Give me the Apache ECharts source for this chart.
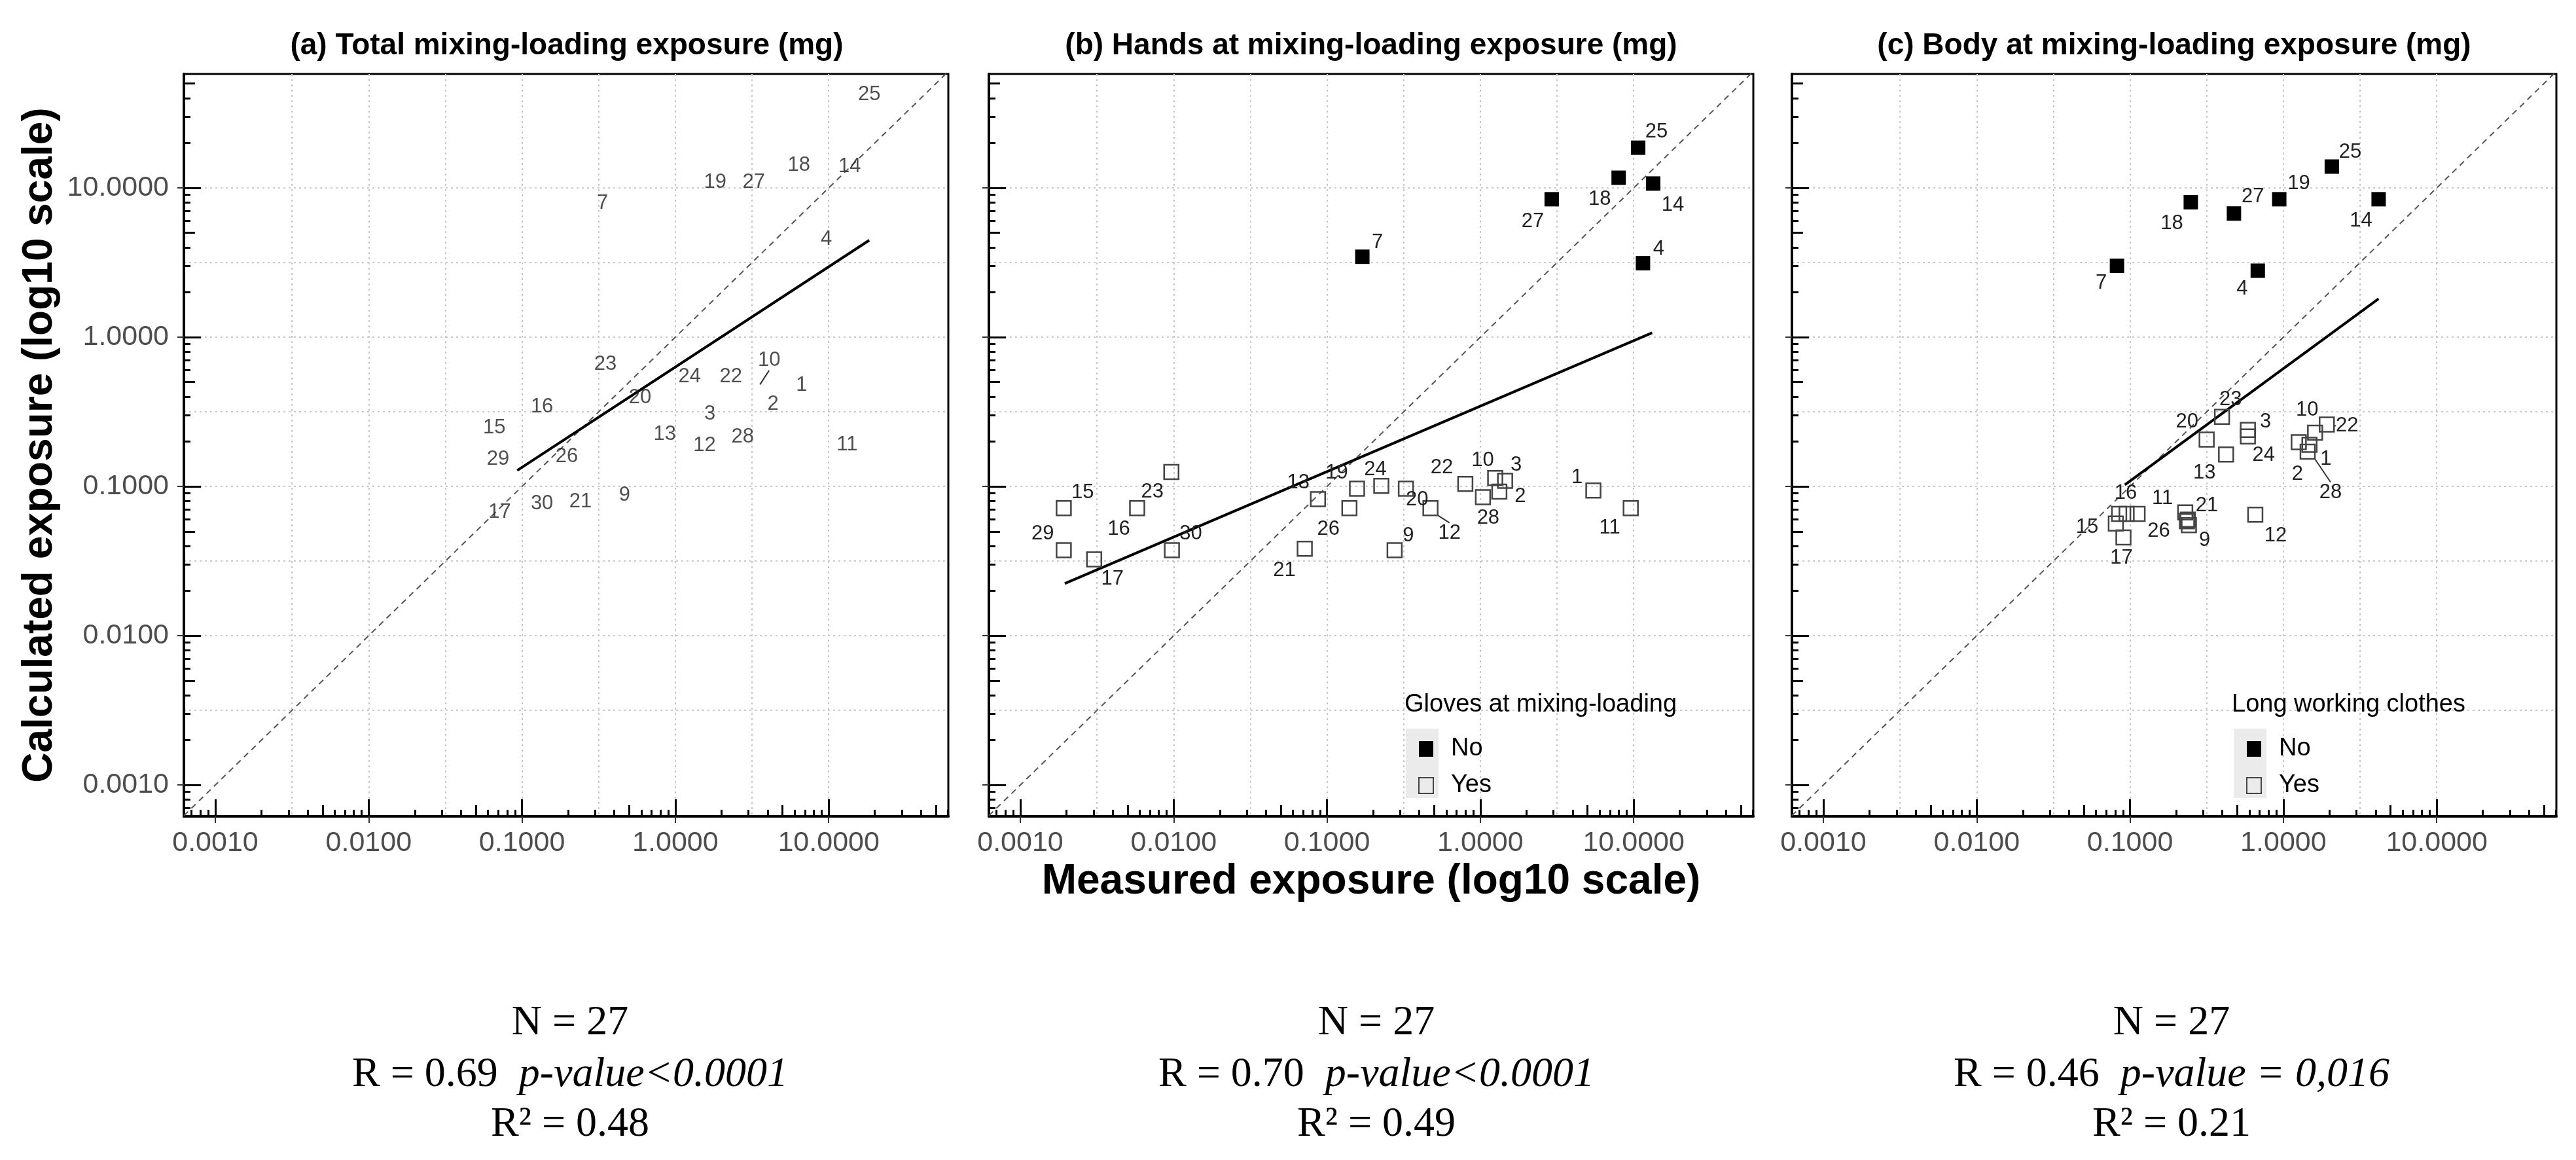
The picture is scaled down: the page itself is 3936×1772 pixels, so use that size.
<!DOCTYPE html>
<html>
<head>
<meta charset="utf-8">
<title>Measured vs calculated mixing-loading exposure</title>
<script src="https://cdn.jsdelivr.net/npm/echarts@6/dist/echarts.min.js"></script>
<style>
    html, body { margin: 0; padding: 0; background: #ffffff; }
    #exposureChart { width: 3936px; height: 1772px; }
</style>
</head>
<body>
<div id="exposureChart"></div>
<script>
/*********************************************** data ***********************************************/

// operator ids (same order in every array below)
var pointIds = [1, 2, 3, 4, 7, 9, 10, 11, 12, 13, 14, 15, 16, 17, 18, 19, 20, 21, 22, 23, 24, 25, 26, 27, 28, 29, 30];

// (a) total mixing-loading exposure (mg)
var totalMeasured   = [6.67, 4.34, 1.68, 9.66, 0.335, 0.467, 3.53, 13.2, 1.55, 0.853, 13.7, 0.0659, 0.135, 0.0716, 6.40, 1.82, 0.589, 0.241, 2.30, 0.350, 1.24, 18.4, 0.196, 3.25, 2.75, 0.0698, 0.135];
var totalCalculated = [0.477, 0.357, 0.305, 4.52, 7.93, 0.0871, 0.477, 0.191, 0.188, 0.224, 13.9, 0.247, 0.343, 0.0675, 14.2, 10.9, 0.394, 0.0789, 0.541, 0.656, 0.541, 42.1, 0.158, 10.9, 0.214, 0.152, 0.0767];

// (b) hands at mixing-loading exposure (mg)
var handsMeasured   = [5.46, 1.33, 1.45, 11.5, 0.170, 0.276, 1.25, 9.57, 0.473, 0.0873, 13.4, 0.00192, 0.00578, 0.00303, 7.98, 0.157, 0.327, 0.0716, 0.798, 0.00966, 0.226, 10.7, 0.140, 2.92, 1.04, 0.00192, 0.00974];
var handsCalculated = [0.094, 0.0923, 0.109, 3.13, 3.46, 0.0374, 0.114, 0.0716, 0.0716, 0.0822, 10.7, 0.0716, 0.0716, 0.0325, 11.7, 0.0967, 0.0967, 0.0383, 0.104, 0.125, 0.101, 18.6, 0.0716, 8.4, 0.0847, 0.0374, 0.0374];
var handsGloves     = ['Yes', 'Yes', 'Yes', 'No', 'No', 'Yes', 'Yes', 'Yes', 'Yes', 'Yes', 'No', 'Yes', 'Yes', 'Yes', 'No', 'Yes', 'Yes', 'Yes', 'Yes', 'Yes', 'Yes', 'No', 'Yes', 'No', 'Yes', 'Yes', 'Yes'];

// (c) body at mixing-loading exposure (mg)
var bodyMeasured    = [1.48, 1.26, 0.587, 0.681, 0.0822, 0.242, 1.61, 0.112, 0.656, 0.423, 4.18, 0.0808, 0.0849, 0.0906, 0.249, 0.94, 0.316, 0.229, 1.92, 0.398, 0.587, 2.07, 0.235, 0.476, 1.44, 0.0950, 0.238];
var bodyCalculated  = [0.190, 0.198, 0.239, 2.79, 3.01, 0.0551, 0.229, 0.0655, 0.0647, 0.164, 8.40, 0.0565, 0.0655, 0.0456, 8.02, 8.40, 0.206, 0.0670, 0.260, 0.293, 0.216, 13.9, 0.0585, 6.74, 0.171, 0.0655, 0.0600];
var bodyClothes     = ['Yes', 'Yes', 'Yes', 'No', 'No', 'Yes', 'Yes', 'Yes', 'Yes', 'Yes', 'No', 'Yes', 'Yes', 'Yes', 'No', 'No', 'Yes', 'Yes', 'Yes', 'Yes', 'Yes', 'No', 'Yes', 'No', 'Yes', 'Yes', 'Yes'];
// ids whose label was dropped in the body panel
var bodyHiddenLabels = [29, 30];

// regression lines (end points)
var fitTotal = [[0.0931, 0.128], [18.4, 4.46]];
var fitHands = [[0.00195, 0.0224], [13.2, 1.07]];
var fitBody  = [[0.0925, 0.1025], [4.18, 1.81]];

// axis decades and their tick labels
var decades    = [0.001, 0.01, 0.1, 1, 10];
var tickLabels = ['0.0010', '0.0100', '0.1000', '1.0000', '10.0000'];

// statistics written under each panel
var statN  = ['27', '27', '27'];
var statR  = ['0.69', '0.70', '0.46'];
var statP  = ['p-value<0.0001', 'p-value<0.0001', 'p-value = 0,016'];
var statR2 = ['0.48', '0.49', '0.21'];

var panelTitles = ['(a) Total mixing-loading exposure (mg)', '(b) Hands at mixing-loading exposure (mg)', '(c) Body at mixing-loading exposure (mg)'];
var legendTitles = ['Gloves at mixing-loading', 'Long working clothes'];

/*********************************************** layout ***********************************************/

var FONT = "'Liberation Sans', Arial, Helvetica, sans-serif";
var SERIF = "'Liberation Serif', 'Times New Roman', serif";
var panelLeft = [281, 1511, 2738];
var panelTop = 113;
var panelWidth = 1168;
var panelHeight = 1134;
var xMin = 0.000624, xMax = 60.3;
var yMin = 0.000617, yMax = 58;

// label displacement (px) of the repelled labels, by id
var labelShiftTotal = {10: [15, -38]};
var labelShiftHands = {
    1: [-25, -20], 2: [32, 7], 3: [17, -24], 4: [24, -22], 7: [23, -22], 9: [21, -22], 10: [-19, -27],
    11: [-32, 30], 12: [29, 38], 13: [-30, -25], 14: [30, 33], 15: [29, -24], 16: [-28, 32], 17: [28, 30],
    18: [-29, 33], 19: [-31, -24], 20: [17, 17], 21: [-31, 33], 22: [-36, -25], 23: [-29, 30], 24: [-9, -25],
    25: [28, -24], 26: [-32, 32], 27: [-29, 34], 28: [8, 32], 29: [-32, -25], 30: [29, -25]
};
var labelShiftBody = {
    1: [25, 22], 2: [-2, 49], 3: [27, -12], 4: [-24, 28], 7: [-24, 26], 9: [24, 23], 10: [-12, -35],
    11: [38, -24], 12: [31, 32], 13: [-33, 28], 14: [-27, 33], 15: [-44, 6], 16: [10, -32], 17: [-3, 32],
    18: [-29, 33], 19: [30, -24], 20: [-30, -27], 21: [33, -10], 22: [31, 2], 23: [13, -26], 24: [24, 29],
    25: [28, -22], 26: [-43, 15], 27: [29, -26], 28: [35, 62]
};
// labels joined to their point by a short segment
var leaderTotal = [10];
var leaderHands = [12];
var leaderBody = [28, 22];

var pointLabel = {
    show: true, position: 'inside', formatter: '{b}',
    fontFamily: FONT, fontSize: 31, color: '#222'
};

/**
 * 对数轴刻度位置
 */
function logTickValues(multipliers) {
    var values = [];
    for (var d = -4; d <= 1; d++) {
        for (var i = 0; i < multipliers.length; i++) {
            var v = multipliers[i] * Math.pow(10, d);
            if (v > xMin && v < xMax) {
                values.push(Number(v.toPrecision(6)));
            }
        }
    }
    return values;
}

var shortTickValues = logTickValues([2, 3, 4, 6, 7, 8, 9]);
var midTickValues = logTickValues([5]);
var gridValues = logTickValues([1, Math.sqrt(10)]);

function decadeLabel(value) {
    var k = Math.round(Math.log10(value));
    return tickLabels[k + 3] || '';
}

function baseAxis(dim, gridIndex) {
    var isX = dim === 'x';
    return {
        type: 'log', logBase: 10, gridIndex: gridIndex,
        min: isX ? xMin : yMin, max: isX ? xMax : yMax,
        position: isX ? 'bottom' : 'left', splitNumber: 5,
        axisLine: {show: false},
        axisTick: {show: false},
        axisLabel: {show: false},
        splitLine: {show: false},
        minorTick: {show: false}
    };
}

function tickAxis(dim, gridIndex, values, length) {
    var axis = baseAxis(dim, gridIndex);
    axis.axisTick = {show: true, inside: true, length: length, customValues: values, lineStyle: {color: '#000', width: 3}};
    return axis;
}

/**
 * stacked axes for one side of a panel:
 * labels + outer ticks, inner log ticks (long / mid / short), half-decade grid lines
 */
function axisStack(dim, gridIndex) {
    var isX = dim === 'x';
    var main = baseAxis(dim, gridIndex);
    main.axisLine = {show: true, onZero: false, lineStyle: {color: '#000', width: 4}};
    main.axisTick = {show: true, inside: false, length: 10, customValues: decades, lineStyle: {color: '#333', width: 2}};
    main.axisLabel = {
        show: isX || gridIndex === 0, customValues: decades,
        formatter: decadeLabel, fontFamily: FONT, fontSize: 43, color: '#4d4d4d', margin: isX ? 20 : 23
    };
    var lines = baseAxis(dim, gridIndex);
    lines.axisTick = {show: false, customValues: gridValues};
    lines.splitLine = {show: true, showMinLine: false, showMaxLine: false, lineStyle: {color: '#c9c9c9', width: 2, type: [3, 5]}};
    return [
        main,
        tickAxis(dim, gridIndex, decades, 26),
        tickAxis(dim, gridIndex, midTickValues, 17),
        tickAxis(dim, gridIndex, shortTickValues, 10),
        lines
    ];
}
var AXES_PER_GRID = 5;

/**
 * scatter data for one group
 */
function pointData(measured, calculated, group, wanted, leaders, hidden) {
    var data = [];
    for (var i = 0; i < pointIds.length; i++) {
        if (group && group[i] !== wanted) {
            continue;
        }
        var id = pointIds[i];
        var item = {name: String(id), value: [measured[i], calculated[i]]};
        if (leaders.indexOf(id) >= 0) {
            item.labelLine = {show: true, lineStyle: {color: '#333', width: 2}};
        }
        if (hidden && hidden.indexOf(id) >= 0) {
            item.label = {show: false};
        }
        data.push(item);
    }
    return data;
}

/**
 * push each label to where it sits in the figure
 */
function shiftLayout(shifts) {
    return function (params) {
        var s = shifts[Number(params.text)];
        return s ? {dx: s[0], dy: s[1]} : {dx: 0, dy: 0};
    };
}

function identitySeries(gi) {
    return {
        type: 'line', xAxisIndex: gi * AXES_PER_GRID, yAxisIndex: gi * AXES_PER_GRID, silent: true,
        symbol: 'none', data: [[xMin, xMin], [xMax, xMax]],
        lineStyle: {color: '#555', width: 2, type: [9, 7]}, z: 2
    };
}

function fitSeries(gi, fit) {
    return {
        type: 'line', xAxisIndex: gi * AXES_PER_GRID, yAxisIndex: gi * AXES_PER_GRID, silent: true,
        symbol: 'none', data: fit,
        lineStyle: {color: '#000', width: 4}, z: 3
    };
}

function groupSeries(gi, name, measured, calculated, group, shifts, leaders, hidden) {
    var filled = name === 'No';
    return {
        name: name, type: 'scatter', xAxisIndex: gi * AXES_PER_GRID, yAxisIndex: gi * AXES_PER_GRID,
        symbol: 'rect', symbolSize: 22,
        itemStyle: filled ? {color: '#000', opacity: 1} : {color: 'rgba(255,255,255,0)', borderColor: '#444', borderWidth: 2.5, opacity: 1},
        label: pointLabel,
        labelLayout: shiftLayout(shifts),
        data: pointData(measured, calculated, group, name, leaders, hidden),
        z: 4
    };
}

function buildOption() {
    var grids = [], xAxes = [], yAxes = [];
    for (var g = 0; g < 3; g++) {
        grids.push({
            left: panelLeft[g], top: panelTop, width: panelWidth, height: panelHeight,
            show: true, borderColor: '#000', borderWidth: 3, backgroundColor: 'transparent'
        });
        xAxes = xAxes.concat(axisStack('x', g));
        yAxes = yAxes.concat(axisStack('y', g));
    }
    // axis titles
    yAxes[0].name = 'Calculated exposure (log10 scale)';
    yAxes[0].nameLocation = 'middle';
    yAxes[0].nameGap = 188;
    yAxes[0].nameTextStyle = {fontFamily: FONT, fontSize: 64, fontWeight: 'bold', color: '#000'};
    xAxes[AXES_PER_GRID].name = 'Measured exposure (log10 scale)';
    xAxes[AXES_PER_GRID].nameLocation = 'middle';
    xAxes[AXES_PER_GRID].nameGap = 68;
    xAxes[AXES_PER_GRID].nameTextStyle = {fontFamily: FONT, fontSize: 64, fontWeight: 'bold', color: '#000'};

    var series = [
        identitySeries(0), fitSeries(0, fitTotal),
        {
            name: 'total', type: 'scatter', xAxisIndex: 0, yAxisIndex: 0,
            symbol: 'rect', symbolSize: 2, itemStyle: {color: 'rgba(0,0,0,0)'},
            label: pointLabel,
            labelLayout: shiftLayout(labelShiftTotal),
            data: pointData(totalMeasured, totalCalculated, null, null, leaderTotal, null), z: 4
        },
        identitySeries(1), fitSeries(1, fitHands),
        groupSeries(1, 'No', handsMeasured, handsCalculated, handsGloves, labelShiftHands, leaderHands, null),
        groupSeries(1, 'Yes', handsMeasured, handsCalculated, handsGloves, labelShiftHands, leaderHands, null),
        identitySeries(2), fitSeries(2, fitBody),
        groupSeries(2, 'No', bodyMeasured, bodyCalculated, bodyClothes, labelShiftBody, leaderBody, bodyHiddenLabels),
        groupSeries(2, 'Yes', bodyMeasured, bodyCalculated, bodyClothes, labelShiftBody, leaderBody, bodyHiddenLabels)
    ];

    var legendLeft = [2162, 3427];
    var legendTitleLeft = [2146, 3410];
    var legends = [], graphics = [];
    for (var l = 0; l < 2; l++) {
        legends.push({
            data: ['No', 'Yes'], orient: 'vertical', left: legendLeft[l], top: 1118,
            itemWidth: 22, itemHeight: 24, itemGap: 14, icon: 'rect', selectedMode: false,
            textStyle: {fontFamily: FONT, fontSize: 38, color: '#000', lineHeight: 42, padding: [0, 0, 0, 22]}
        });
        // grey key background
        graphics.push({
            type: 'rect', z: 1,
            shape: {x: legendLeft[l] - 14, y: 1113, width: 50, height: 106},
            style: {fill: '#ebebeb'}
        });
        graphics.push({
            type: 'text', z: 5, x: legendTitleLeft[l], y: 1077,
            style: {text: legendTitles[l], font: '38px ' + FONT, fill: '#000', align: 'left', verticalAlign: 'middle'}
        });
    }

    var titleCenter = [866, 2095, 3322];
    var statCenter = [871, 2103, 3318];
    for (var p = 0; p < 3; p++) {
        graphics.push({
            type: 'text', x: titleCenter[p], y: 70,
            style: {text: panelTitles[p], font: 'bold 46px ' + FONT, fill: '#000', align: 'center', verticalAlign: 'middle'}
        });
        graphics.push({
            type: 'text', x: statCenter[p], y: 1563,
            style: {text: 'N = ' + statN[p], font: '64px ' + SERIF, fill: '#000', align: 'center', verticalAlign: 'middle'}
        });
        graphics.push({
            type: 'text', x: statCenter[p], y: 1642,
            style: {
                text: '{r|R = ' + statR[p] + '  }{p|' + statP[p] + '}',
                font: '64px ' + SERIF, fill: '#000', align: 'center', verticalAlign: 'middle',
                rich: {
                    r: {fontFamily: SERIF, fontSize: 64, fill: '#000', color: '#000'},
                    p: {fontFamily: SERIF, fontSize: 64, fontStyle: 'italic', fill: '#000', color: '#000'}
                }
            }
        });
        graphics.push({
            type: 'text', x: statCenter[p], y: 1718,
            style: {text: 'R\u00b2 = ' + statR2[p], font: '64px ' + SERIF, fill: '#000', align: 'center', verticalAlign: 'middle'}
        });
    }

    return {
        backgroundColor: '#ffffff',
        animation: false,
        textStyle: {fontFamily: FONT},
        grid: grids,
        xAxis: xAxes,
        yAxis: yAxes,
        legend: legends,
        graphic: graphics,
        series: series
    };
}

/**
 * 页面初始化
 */
function initExposureChart() {
    var chart = echarts.init(document.getElementById('exposureChart'), null, {renderer: 'canvas'});
    var option = buildOption();
    if (option && typeof option === 'object') {
        chart.setOption(option, true);
    }
    window.addEventListener('resize', function () {
        chart.resize();
    });
}

initExposureChart();
</script>
</body>
</html>
